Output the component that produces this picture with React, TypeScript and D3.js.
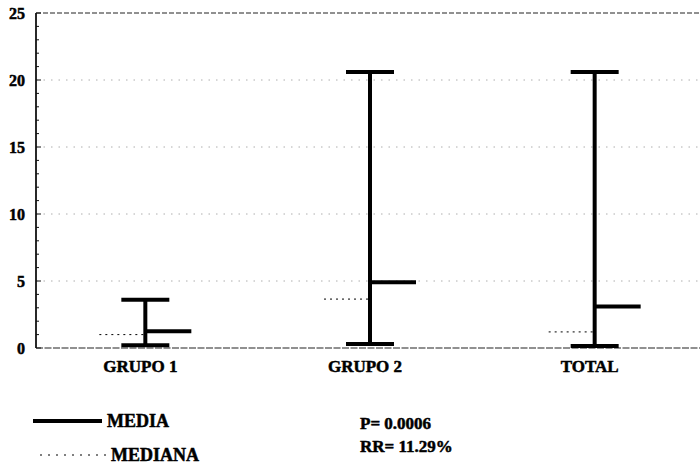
import React from "react";
import * as d3 from "d3";

// chart data
const groups = ["GRUPO 1", "GRUPO 2", "TOTAL"];
const maxVals = [3.6, 20.6, 20.6];
const minVals = [0.2, 0.3, 0.15];
const means = [1.25, 4.9, 3.1];
const medians = [1.0, 3.65, 1.2];
const yTicks = [0, 5, 10, 15, 20, 25];
const statLines = ["P= 0.0006", "RR= 11.29%"];

const W = 700;
const H = 464;
const FONT = "'Liberation Serif', 'Times New Roman', serif";

const App: React.FC = () => {
  const margin = { top: 13, left: 36, right: 0, bottom: 116 };
  const y = d3.scaleLinear().domain([0, 25]).range([348, 13]);
  const x = d3.scaleBand().domain(groups).range([33, 707]);
  const cx = (g: string) => (x(g) || 0) + x.bandwidth() / 2;
  const minor = d3.range(0, 26, 1);
  const capHalf = 24;
  const tickLen = 46;

  // bold, slightly inked text like the scanned original
  const txt = {
    fontFamily: FONT,
    fontWeight: "bold" as const,
    fill: "#000",
    stroke: "#000",
    strokeWidth: 0.5,
  };

  return (
    <div style={{ position: "absolute", left: 0, top: 0 }}>
      <svg width={W} height={H} style={{ display: "block", background: "#fff" }}>
        {/* grid lines */}
        {yTicks
          .filter((t) => t > 0 && t < 25)
          .map((t) => (
            <line
              key={"g" + t}
              x1={margin.left}
              x2={W}
              y1={y(t)}
              y2={y(t)}
              stroke="#999"
              strokeWidth={0.8}
              strokeDasharray="1.5,6"
            />
          ))}
        {/* top border */}
        <line x1={margin.left} x2={W} y1={y(25)} y2={y(25)} stroke="#222" strokeWidth={1} strokeDasharray="5,2" />
        {/* x axis */}
        <line x1={margin.left} x2={W} y1={y(0)} y2={y(0)} stroke="#222" strokeWidth={1.2} strokeDasharray="7,1.5" />
        {/* y axis */}
        <line x1={margin.left} x2={margin.left} y1={y(25)} y2={y(0)} stroke="#111" strokeWidth={1.8} />
        {minor.map((t) => (
          <line
            key={"m" + t}
            x1={margin.left}
            x2={margin.left + (t % 5 === 0 ? 5 : 3)}
            y1={y(t)}
            y2={y(t)}
            stroke="#111"
            strokeWidth={1}
          />
        ))}
        {yTicks.map((t) => (
          <text key={"l" + t} x={25} y={y(t)} dy="0.35em" textAnchor="end" fontSize={16} {...txt}>
            {t}
          </text>
        ))}

        {/* range bars */}
        {groups.map((g, i) => {
          const c = cx(g);
          return (
            <g key={g} stroke="#000">
              <line x1={c} x2={c} y1={y(maxVals[i])} y2={y(minVals[i])} strokeWidth={4} />
              <line x1={c - capHalf} x2={c + capHalf} y1={y(maxVals[i])} y2={y(maxVals[i])} strokeWidth={4} />
              <line x1={c - capHalf} x2={c + capHalf} y1={y(minVals[i])} y2={y(minVals[i])} strokeWidth={4} />
              <line x1={c} x2={c + tickLen} y1={y(means[i])} y2={y(means[i])} strokeWidth={4} />
              <line
                x1={c - tickLen}
                x2={c}
                y1={y(medians[i])}
                y2={y(medians[i])}
                strokeWidth={1}
                strokeDasharray="2,4"
              />
              <text x={c - 5} y={366} dy="0.35em" textAnchor="middle" fontSize={17} {...txt}>
                {g}
              </text>
            </g>
          );
        })}

        {/* legend */}
        <line x1={33} x2={102} y1={421} y2={421} stroke="#000" strokeWidth={4} />
        <text x={107} y={421} dy="0.35em" fontSize={18} {...txt}>
          MEDIA
        </text>
        <line x1={40} x2={110} y1={455} y2={455} stroke="#000" strokeWidth={1} strokeDasharray="2,6" />
        <text x={111} y={455} dy="0.35em" fontSize={18} {...txt}>
          MEDIANA
        </text>
        {statLines.map((s, i) => (
          <text key={s} x={360} y={423 + i * 23} dy="0.35em" fontSize={17} {...txt}>
            {s}
          </text>
        ))}
      </svg>
    </div>
  );
};

export default App;
